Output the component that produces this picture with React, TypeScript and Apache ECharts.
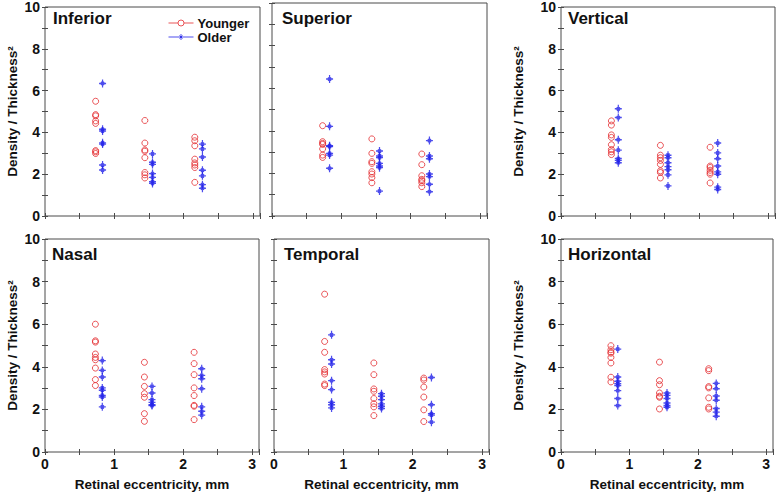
import React, { useEffect, useRef } from 'react';
import * as echarts from 'echarts';

// Eccentricity (mm) of each group's column
const youngerX = [0.73, 1.44, 2.16];
const olderX = [0.83, 1.55, 2.27];

const xTicks = [0, 1, 2, 3];
const yTicks = [0, 2, 4, 6, 8, 10];

// Density / Thickness^2 values, grouped by eccentricity column
const inferiorYounger = [
  [5.49, 4.85, 4.79, 4.55, 4.43, 3.13, 3.07, 2.99],
  [4.57, 3.49, 3.16, 3.1, 2.79, 2.08, 1.97, 1.82],
  [3.77, 3.6, 3.36, 2.72, 2.54, 2.44, 2.32, 1.61],
];
const inferiorOlder = [
  [6.34, 4.15, 4.07, 3.5, 3.44, 2.44, 2.2],
  [2.97, 2.57, 2.47, 2.03, 1.85, 1.64, 1.56],
  [3.44, 3.21, 2.82, 2.19, 1.92, 1.5, 1.33],
];
const superiorYounger = [
  [4.24, 3.49, 3.41, 3.36, 3.15, 2.86, 2.75],
  [3.62, 2.94, 2.55, 2.47, 2.08, 1.97, 1.8, 1.56],
  [2.91, 2.41, 1.89, 1.72, 1.66, 1.56, 1.38],
];
const superiorOlder = [
  [6.43, 4.21, 3.3, 3.26, 2.94, 2.86, 2.24],
  [3.05, 2.82, 2.74, 2.47, 2.35, 2.27, 1.17],
  [3.54, 2.82, 2.69, 1.97, 1.85, 1.49, 1.14],
];
const verticalYounger = [
  [4.55, 4.35, 3.88, 3.76, 3.41, 3.18, 3.07, 2.94],
  [3.38, 2.91, 2.79, 2.66, 2.47, 2.16, 2.08, 1.82],
  [3.29, 2.39, 2.32, 2.19, 2.08, 2.0, 1.58],
];
const verticalOlder = [
  [5.13, 4.71, 3.65, 3.15, 2.75, 2.66, 2.55],
  [2.91, 2.79, 2.55, 2.36, 2.21, 1.97, 1.44],
  [3.49, 3.02, 2.74, 2.39, 2.11, 2.0, 1.38, 1.27],
];
const nasalYounger = [
  [6.0, 5.22, 5.16, 4.6, 4.44, 4.33, 3.94, 3.4, 3.12],
  [4.21, 3.52, 3.08, 2.74, 2.57, 1.8, 1.44],
  [4.68, 4.15, 3.63, 3.01, 2.65, 2.19, 2.15, 1.52],
];
const nasalOlder = [
  [4.29, 3.83, 3.52, 3.01, 2.9, 2.66, 2.58, 2.12],
  [3.08, 2.77, 2.46, 2.33, 2.22, 2.18],
  [3.91, 3.6, 3.44, 2.97, 2.12, 1.91, 1.73],
];
const temporalYounger = [
  [7.41, 5.19, 4.68, 3.87, 3.76, 3.66, 3.19, 3.12],
  [4.18, 3.63, 2.96, 2.85, 2.51, 2.27, 2.12, 1.71],
  [3.47, 3.38, 3.05, 2.58, 1.98, 1.43],
];
const temporalOlder = [
  [5.5, 4.33, 4.13, 3.35, 2.93, 2.33, 2.22, 2.07],
  [2.74, 2.62, 2.46, 2.26, 2.15, 2.04],
  [3.5, 2.22, 1.8, 1.73, 1.4],
];
const horizontalYounger = [
  [4.99, 4.8, 4.69, 4.64, 4.44, 4.18, 3.51, 3.29],
  [4.22, 3.35, 3.16, 2.77, 2.62, 2.57, 2.02],
  [3.91, 3.82, 3.07, 3.01, 2.54, 2.1, 2.02],
];
const horizontalOlder = [
  [4.83, 3.52, 3.32, 3.21, 3.12, 2.88, 2.51, 2.18],
  [2.77, 2.66, 2.51, 2.3, 2.18, 2.1],
  [3.22, 2.97, 2.63, 2.43, 2.04, 1.87, 1.68],
];

const panelNames = ['Inferior', 'Superior', 'Vertical', 'Nasal', 'Temporal', 'Horizontal'];
const youngerSets = [inferiorYounger, superiorYounger, verticalYounger, nasalYounger, temporalYounger, horizontalYounger];
const olderSets = [inferiorOlder, superiorOlder, verticalOlder, nasalOlder, temporalOlder, horizontalOlder];

const xTitle = 'Retinal eccentricity, mm';
const yTitle = 'Density / Thickness²';

// layout (pixels)
const rects = [
  { left: 45, top: 3, width: 215, height: 213 },
  { left: 272, top: 3, width: 215, height: 213 },
  { left: 561, top: 3, width: 214, height: 213 },
  { left: 45, top: 239, width: 214, height: 213 },
  { left: 274, top: 239, width: 215, height: 213 },
  { left: 561, top: 239, width: 212, height: 213 },
];
const titleOffsets = [8, 10, 7, 7, 10, 7];

const RED = '#e42a2e';
const BLUE = '#2020e8';
const FRAME = '#4a4a4a';
const FONT = '"Liberation Sans", Arial, sans-serif';
const STAR = 'path://M0,-4L0,4M-3.5,0L3.5,0M-1.6,-1.6L1.6,1.6M-1.6,1.6L1.6,-1.6';

function buildOption() {
  const grid: any[] = [];
  const xAxis: any[] = [];
  const yAxis: any[] = [];
  const series: any[] = [];
  const title: any[] = [];

  rects.forEach((r, i) => {
    const col = i % 3;
    const row = Math.floor(i / 3);
    grid.push({ ...r, show: true, borderColor: FRAME, borderWidth: 1, containLabel: false });
    const tick = { show: true, inside: true, length: 3, lineStyle: { color: FRAME, width: 1 } };
    xAxis.push({
      type: 'value', gridIndex: i, position: 'bottom', min: 0, max: 3.1, interval: 0.5,
      axisLine: { show: false }, axisTick: tick, splitLine: { show: false },
      axisLabel: {
        show: row === 1, margin: 5, fontSize: 14, fontWeight: 'bold', color: '#111', fontFamily: FONT,
        showMinLabel: true, showMaxLabel: true,
        formatter: (v: number) => (xTicks.includes(v) ? String(v) : ''),
      },
      name: row === 1 ? xTitle : '', nameLocation: 'middle', nameGap: 25,
      nameTextStyle: { fontSize: 13.5, fontWeight: 'bold', color: '#111', fontFamily: FONT },
    });
    xAxis.push({
      type: 'value', gridIndex: i, position: 'top', min: 0, max: 3.1, interval: 0.5,
      axisLine: { show: false }, axisTick: tick, splitLine: { show: false }, axisLabel: { show: false },
    });
    yAxis.push({
      type: 'value', gridIndex: i, position: 'left', min: 0, max: 10, interval: 1,
      axisLine: { show: false }, axisTick: tick, splitLine: { show: false },
      axisLabel: {
        show: col !== 1, margin: 5, fontSize: 14, fontWeight: 'bold', color: '#111', fontFamily: FONT,
        padding: [7, 0, 0, 0], showMinLabel: true, showMaxLabel: true,
        formatter: (v: number) => (yTicks.includes(v) ? String(v) : ''),
      },
      name: col !== 1 ? yTitle : '', nameLocation: 'middle', nameGap: col === 0 ? 26 : 36,
      nameTextStyle: { fontSize: 13.5, fontWeight: 'bold', color: '#111', fontFamily: FONT },
    });
    yAxis.push({
      type: 'value', gridIndex: i, position: 'right', min: 0, max: 10, interval: 1,
      axisLine: { show: false }, axisTick: tick, splitLine: { show: false }, axisLabel: { show: false },
    });

    title.push({
      text: panelNames[i], left: r.left + titleOffsets[i], top: r.top + 6, padding: 0,
      textStyle: { fontSize: 17, fontWeight: 'bold', color: '#111', fontFamily: FONT, lineHeight: 18 },
    });

    const yData = youngerSets[i].flatMap((g, gi) => g.map((v) => [youngerX[gi], v]));
    const oData = olderSets[i].flatMap((g, gi) => g.map((v) => [olderX[gi], v]));
    series.push({
      name: 'Younger', type: 'scatter', xAxisIndex: 2 * i, yAxisIndex: 2 * i, data: yData,
      symbol: 'circle', symbolSize: 6,
      itemStyle: { color: 'transparent', borderColor: RED, borderWidth: 1 },
    });
    series.push({
      name: 'Older', type: 'scatter', xAxisIndex: 2 * i, yAxisIndex: 2 * i, data: oData,
      symbol: STAR, symbolSize: [7, 8],
      itemStyle: { color: 'transparent', borderColor: BLUE, borderWidth: 1.3 },
    });
  });

  return {
    animation: false,
    backgroundColor: '#ffffff',
    title,
    grid,
    xAxis,
    yAxis,
    series,
    legend: {
      orient: 'vertical', left: 168, top: 16, padding: 0, itemGap: 0,
      itemWidth: 25, itemHeight: 6, selectedMode: false,
      textStyle: { fontSize: 13, fontWeight: 'bold', color: '#111', fontFamily: FONT, lineHeight: 14, padding: [0, 0, 0, -1] },
      data: [
        {
          name: 'Younger',
          icon: 'path://M0,3L9.5,3M15.5,3L25,3M15.5,3A3,3,0,1,1,9.5,3A3,3,0,1,1,15.5,3',
          itemStyle: { color: 'transparent', borderColor: RED, borderWidth: 1 },
        },
        {
          name: 'Older',
          icon: 'path://M0,3L25,3M12.5,0L12.5,6M11,1.5L14,4.5M11,4.5L14,1.5',
          itemStyle: { color: 'transparent', borderColor: BLUE, borderWidth: 1 },
        },
      ],
    },
  };
}

export default function App() {
  const ref = useRef<HTMLDivElement>(null);
  useEffect(() => {
    if (!ref.current) return;
    const chart = echarts.init(ref.current, undefined, { renderer: 'svg' });
    chart.setOption(buildOption() as any);
    return () => chart.dispose();
  }, []);
  return (
    <div
      ref={ref}
      style={{ position: 'fixed', left: 0, top: 0, width: 777, height: 493, background: '#fff' }}
    />
  );
}
